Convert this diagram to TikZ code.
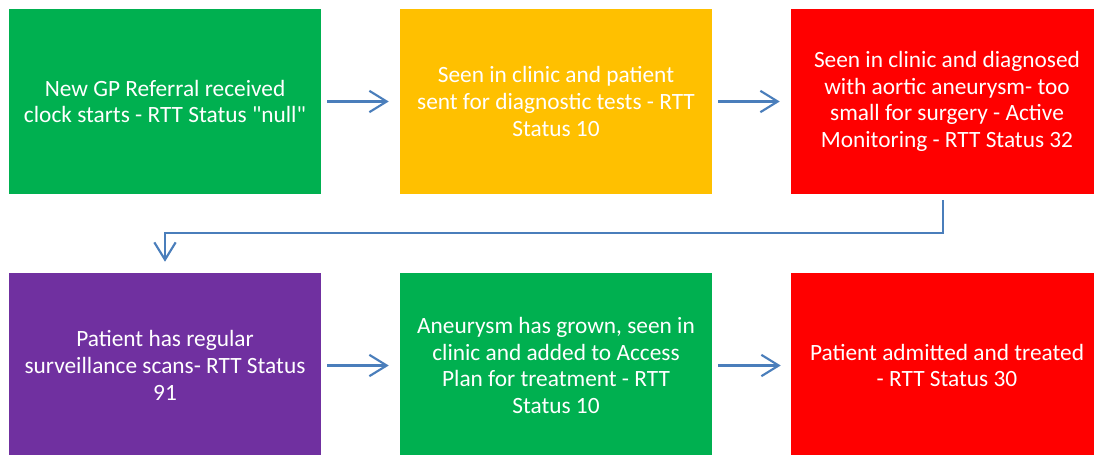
\documentclass[tikz,border=0pt]{standalone}
\usepackage{fontspec}
\setmainfont{Carlito}[Ligatures=TeXOff]
\usetikzlibrary{arrows.meta}
\definecolor{okgreen}{HTML}{00B050}
\definecolor{amber}{HTML}{FFC000}
\definecolor{alert}{HTML}{FF0000}
\definecolor{violet}{HTML}{7030A0}
\definecolor{linkblue}{HTML}{4A7EBB}
\tikzset{
  stage/.style={rectangle, draw=none, fill=#1, minimum width=234pt, minimum height=138.75pt,
    text=white, align=center, inner sep=0pt,
    font=\fontsize{17.5pt}{20pt}\selectfont},
  conn/.style={draw=linkblue, line width=1.6pt,
    -{Straight Barb[length=13pt,width=16pt,line width=1.6pt]}},
}
\begin{document}
\begin{tikzpicture}[x=0.75pt,y=-0.75pt]
\useasboundingbox (0,0) rectangle (1094,454);
% top row
\node[stage=okgreen] (b1) at (165,101.5) {New GP Referral received\\clock starts - RTT Status "null"};
\node[stage=amber] (b2) at (556,101.5) {Seen in clinic and patient\\sent for diagnostic tests - RTT\\Status 10};
\node[stage=alert] (b3) at (947,101.5) {Seen in clinic and diagnosed\\with aortic aneurysm- too\\small for surgery - Active\\Monitoring - RTT Status 32};
% bottom row
\node[stage=violet] (b4) at (165,365.5) {Patient has regular\\surveillance scans- RTT Status\\91};
\node[stage=okgreen] (b5) at (556,365.5) {Aneurysm has grown, seen in\\clinic and added to Access\\Plan for treatment - RTT\\Status 10};
\node[stage=alert] (b6) at (947,365.5) {Patient admitted and treated\\- RTT Status 30};
% connectors
\draw[conn] ([xshift=4.5pt]b1.east) -- ([xshift=-8.25pt]b2.west);
\draw[conn] ([xshift=4.5pt]b2.east) -- ([xshift=-8.25pt]b3.west);
\draw[conn] ([xshift=-3pt,yshift=-4.5pt]b3.south) |- ([yshift=30pt]b4.north) -- ([yshift=8.25pt]b4.north);
\draw[conn] ([xshift=4.5pt]b4.east) -- ([xshift=-8.25pt]b5.west);
\draw[conn] ([xshift=4.5pt]b5.east) -- ([xshift=-7.5pt]b6.west);
\end{tikzpicture}
\end{document}
